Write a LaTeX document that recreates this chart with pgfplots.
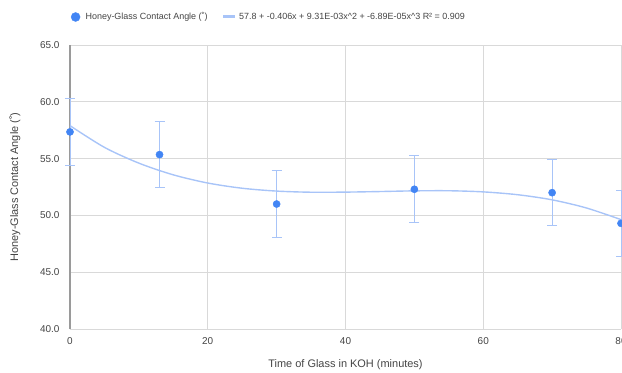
\documentclass[border=0pt]{standalone}
\usepackage{pgfplots}
\pgfplotsset{compat=1.18}
\usepackage{fontspec}
\setmainfont{Liberation Sans}
\definecolor{ptblue}{HTML}{4285F4}
\definecolor{lblue}{HTML}{A8C4F8}
\definecolor{gridgray}{HTML}{D9D9D9}
\definecolor{axgray}{HTML}{9A9A9A}
\definecolor{txtgray}{HTML}{444444}
\begin{document}
\begin{tikzpicture}
\begin{axis}[
  scale only axis,
  width=551bp, height=284bp,
  xmin=0, xmax=80, ymin=40, ymax=65,
  xtick={0,20,40,60,80},
  ytick={40,45,50,55,60,65},
  major tick length=0pt,
  axis x line*=bottom, axis y line*=left,
  x axis line style={draw=gridgray, line width=0.8pt},
  y axis line style={draw=axgray, line width=1.2pt},
  grid=major,
  major grid style={draw=gridgray, line width=0.8pt},
  /pgf/number format/assume math mode=true,
  yticklabel style={/pgf/number format/fixed, /pgf/number format/fixed zerofill, /pgf/number format/precision=1,
    font=\fontsize{10}{12}\selectfont, text=txtgray, xshift=-7bp},
  xticklabel style={font=\fontsize{10}{12}\selectfont, text=txtgray, yshift=-5bp},
  xlabel={Time of Glass in KOH (minutes)},
  ylabel={Honey-Glass Contact Angle (˚)},
  xlabel style={at={(axis description cs:0.5,-0.124)}, anchor=center, font=\fontsize{11}{13}\selectfont, text=txtgray},
  ylabel style={at={(axis description cs:-0.1,0.5)}, anchor=center, font=\fontsize{11}{13}\selectfont, text=txtgray},
  legend columns=2,
  legend style={at={(axis description cs:-0.0065,1.0986)}, anchor=west, draw=none, fill=none,
    font=\fontsize{9}{11}\selectfont, text=txtgray,
    /tikz/every even column/.append style={column sep=12bp}},
  clip=false,
]
\coordinate (bl) at (rel axis cs:0,0);
\coordinate (tr) at (rel axis cs:1,1);
\addplot[only marks, mark=*, mark size=3.6bp, mark options={fill=ptblue, draw=ptblue},
  legend image code/.code={\path[draw=none,fill=none] (0bp,0bp) -- (14bp,0bp); \fill[ptblue] (6bp,0bp) circle[radius=4.5bp];},
  error bars/.cd, y dir=both, y explicit,
  error bar style={draw=lblue, line width=1pt},
  error mark options={draw=lblue, line width=1pt, mark size=5bp, rotate=90}]
  coordinates {
  (0,57.35) +- (0,2.93)
  (13,55.35) +- (0,2.93)
  (30,51.0) +- (0,2.93)
  (50,52.3) +- (0,2.93)
  (70,52.0) +- (0,2.93)
  (80,49.3) +- (0,2.93)
  };
\addlegendentry{Honey-Glass Contact Angle (˚)}
\addplot[draw=lblue, line width=1.4pt, smooth, no marks,
  legend image code/.code={\path[draw=none,fill=none] (0bp,0bp) -- (14bp,0bp); \draw[lblue, line width=3pt] (0bp,0bp) -- (12bp,0bp);}]
  coordinates {
  (0,57.9) (5,55.99) (10,54.60) (15,53.57) (20,52.85) (25,52.39) (30,52.14)
  (35,52.04) (40,52.05) (45,52.10) (50,52.16) (55,52.17) (60,52.07)
  (65,51.82) (70,51.37) (75,50.65) (80,49.63)
  };
\addlegendentry{57.8 + -0.406x + 9.31E-03x\^{}2 + -6.89E-05x\^{}3 R² = 0.909}
\end{axis}
\pgfresetboundingbox
\path ([shift={(-70bp,-44bp)}]bl) rectangle ([shift={(1bp,45bp)}]tr);
\end{tikzpicture}
\end{document}
